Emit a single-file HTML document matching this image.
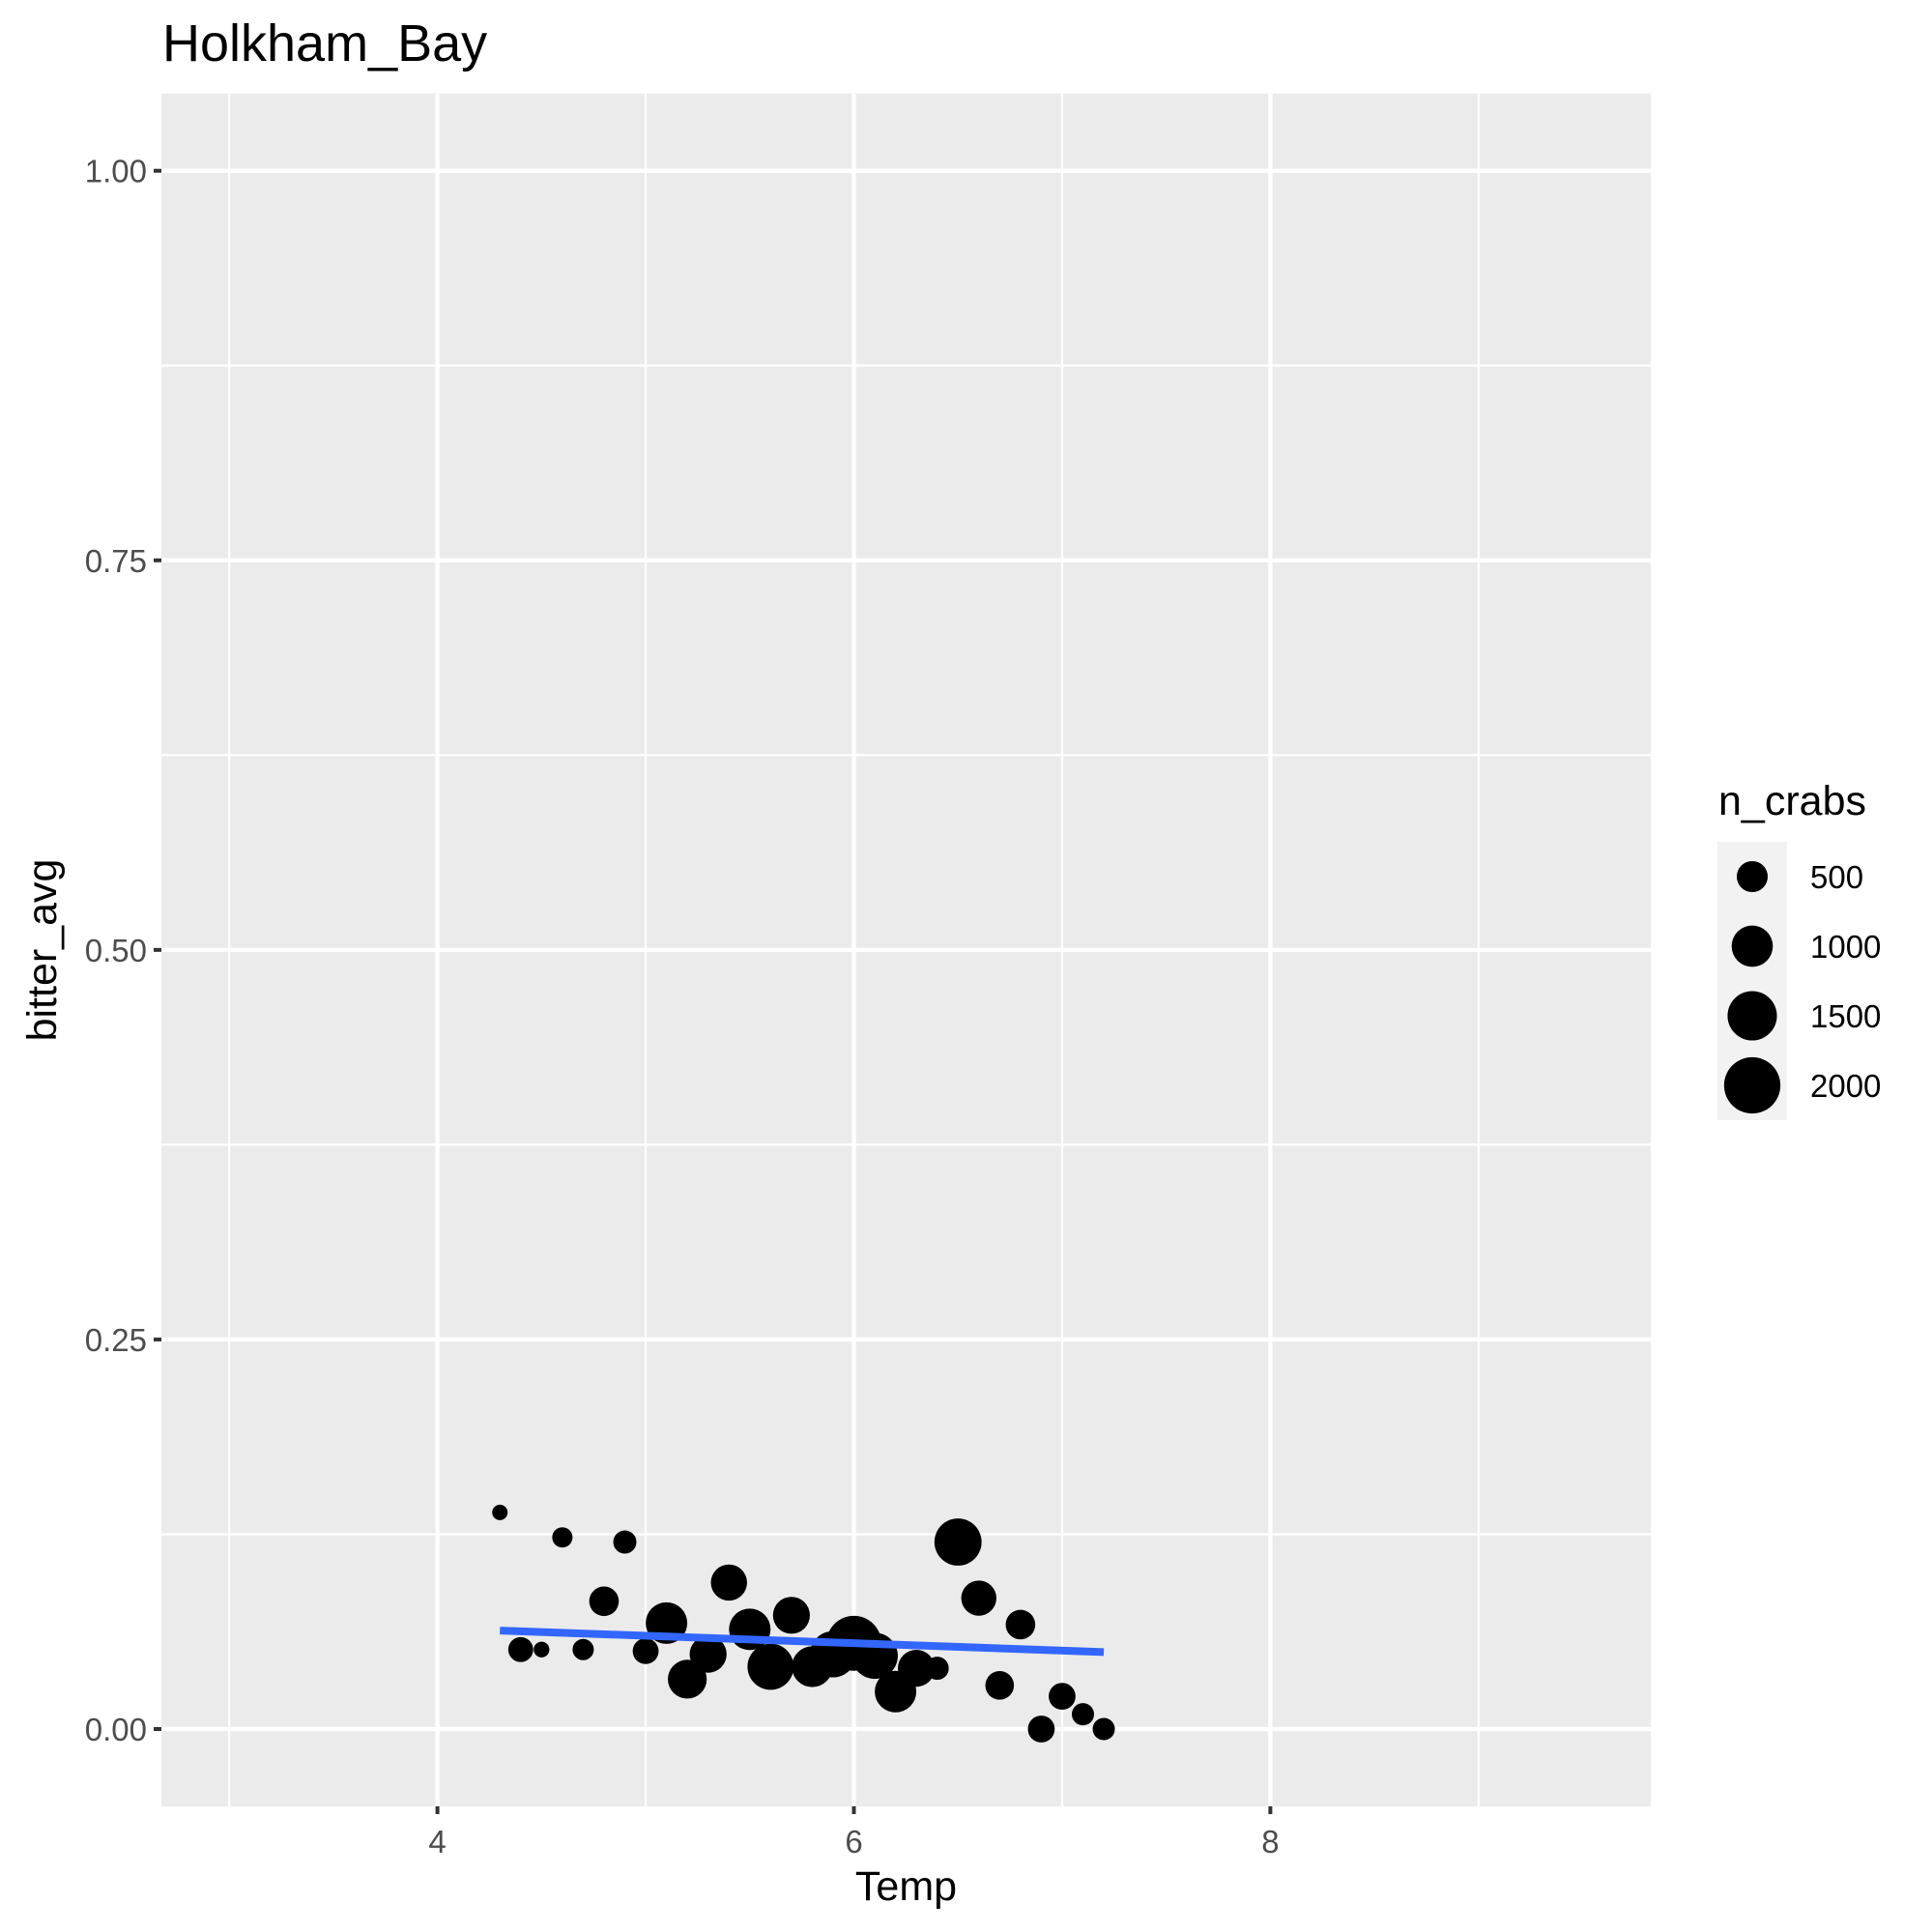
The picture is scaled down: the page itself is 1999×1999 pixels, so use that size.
<!DOCTYPE html>
<html><head><meta charset="utf-8"><style>
html,body{margin:0;padding:0;background:#fff;}
svg{display:block;font-family:"Liberation Sans",Arial,sans-serif;}
</style></head><body>
<svg id="chart" width="1999" height="1999" viewBox="0 0 1999 1999" xmlns="http://www.w3.org/2000/svg">
<rect x="0" y="0" width="1999" height="1999" fill="#fff"/>
<text x="168" y="63" font-size="54" fill="#000">Holkham_Bay</text>
<rect x="167" y="96.7" width="1541" height="1772.3" fill="#ebebeb"/>
<g id="grid"></g>
<g id="points"></g>
<g id="fit"></g>
<g id="axes"></g>
<text x="937.5" y="1966" font-size="43" text-anchor="middle" fill="#000">Temp</text>
<text transform="translate(58,983) rotate(-90)" font-size="43" text-anchor="middle" fill="#000">bitter_avg</text>
<g id="legend">
<text x="1778" y="843" font-size="43" fill="#000">n_crabs</text>
</g>
</svg>
<script>
const temps = [4.3,4.6,4.9,4.8,4.4,4.5,4.7,5.0,5.1,5.2,5.3,5.4,5.5,5.6,5.7,5.8,5.9,6.0,6.1,6.2,6.3,6.4,6.5,6.6,6.7,6.8,6.9,7.0,7.1,7.2];
const bitter = [0.139,0.123,0.120,0.082,0.051,0.051,0.051,0.050,0.068,0.032,0.048,0.094,0.064,0.040,0.073,0.040,0.048,0.055,0.047,0.024,0.039,0.039,0.120,0.084,0.028,0.067,0.000,0.021,0.0095,0.000];
const nCrabs = [10,127,212,441,270,15,155,303,1018,871,773,734,1018,1294,773,975,1294,1900,1294,1018,773,212,1355,686,403,441,337,337,183,183];
const fitX = [4.3,7.2];
const fitY = [0.0632,0.0494];
const xMajor = [4,6,8];
const xMinor = [3,5,7,9];
const yMajor = [0,0.25,0.5,0.75,1];
const yMinor = [0.125,0.375,0.625,0.875];
const yTickLabels = ["0.00","0.25","0.50","0.75","1.00"];
const legendValues = [500,1000,1500,2000];

const L=167,R=1708,T=96.7,B=1869;
const xScale = v => 452.6 + (v-4)*215.45;
const yScale = v => 1789 - v*1612.3;
const rScale = n => Math.sqrt(60 + 0.395*n);
const NS='http://www.w3.org/2000/svg';
function mk(tag, parent, attrs){const e=document.createElementNS(NS,tag);for(const k in attrs)e.setAttribute(k,attrs[k]);parent.appendChild(e);return e;}

const grid=document.getElementById('grid');
yMinor.forEach(v=>{const e=mk('line',grid,{x1:L,x2:R,y1:yScale(v),y2:yScale(v),stroke:'#fff','stroke-width':2.2});

});
xMinor.forEach(v=>{const e=mk('line',grid,{x1:xScale(v),x2:xScale(v),y1:T,y2:B,stroke:'#fff','stroke-width':2.2});

});
yMajor.forEach(v=>{const e=mk('line',grid,{x1:L,x2:R,y1:yScale(v),y2:yScale(v),stroke:'#fff','stroke-width':4.3});

});
xMajor.forEach(v=>{const e=mk('line',grid,{x1:xScale(v),x2:xScale(v),y1:T,y2:B,stroke:'#fff','stroke-width':4.3});

});

const pts=document.getElementById('points');
temps.forEach((t,i)=>{const c=mk('circle',pts,{cx:xScale(t),cy:yScale(bitter[i]),r:rScale(nCrabs[i]),fill:'#000'});

});

const fit=document.getElementById('fit');
const fl=mk('line',fit,{x1:xScale(fitX[0]),y1:yScale(fitY[0]),x2:xScale(fitX[1]),y2:yScale(fitY[1]),stroke:'#3366ff','stroke-width':8});



const axes=document.getElementById('axes');
yMajor.forEach((v,i)=>{const tk=mk('line',axes,{x1:159,x2:167,y1:yScale(v),y2:yScale(v),stroke:'#333','stroke-width':4});


const tx=mk('text',axes,{x:152,y:yScale(v)+12,'font-size':33,'text-anchor':'end',fill:'#4d4d4d'});
tx.textContent=yTickLabels[i];

});
xMajor.forEach(v=>{const tk=mk('line',axes,{x1:xScale(v),x2:xScale(v),y1:B,y2:B+8,stroke:'#333','stroke-width':4});


const tx=mk('text',axes,{x:xScale(v),y:1917,'font-size':33,'text-anchor':'middle',fill:'#4d4d4d'});
tx.textContent=String(v);

});

const leg=document.getElementById('legend');
legendValues.forEach((v,i)=>{const y0=871+i*72;
const k=mk('rect',leg,{x:1777,y:y0,width:72,height:72,fill:'#f2f2f2'});


const c=mk('circle',leg,{cx:1813,cy:y0+36,r:rScale(v),fill:'#000'});


const tx=mk('text',leg,{x:1873,y:y0+48,'font-size':33,fill:'#000'});
tx.textContent=String(v);

});
</script>
</body></html>
